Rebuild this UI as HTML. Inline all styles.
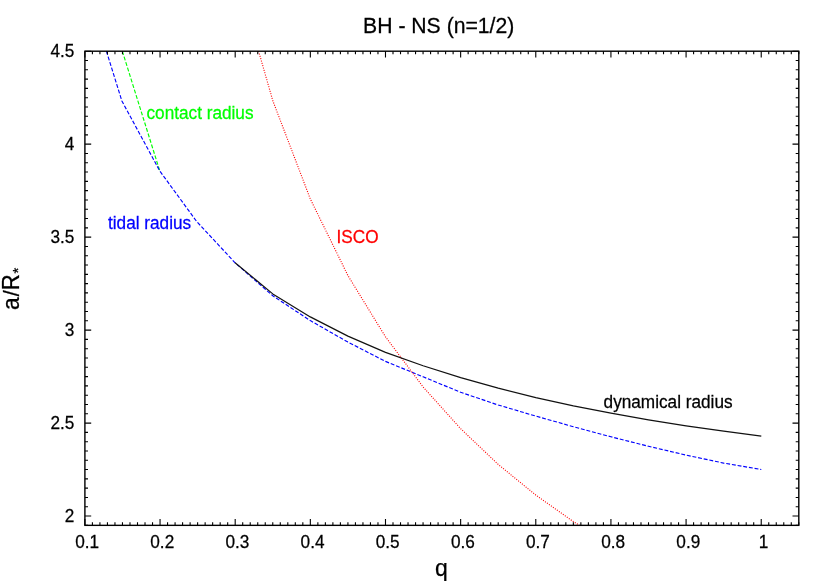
<!DOCTYPE html>
<html><head><meta charset="utf-8"><title>BH - NS (n=1/2)</title>
<style>
html,body{margin:0;padding:0;background:#fff;}
body{width:830px;height:581px;overflow:hidden;}
svg{display:block;will-change:transform;}
text{font-family:"Liberation Sans",sans-serif;}
</style></head><body>
<svg width="830" height="581" viewBox="0 0 830 581">
<rect x="0" y="0" width="830" height="581" fill="#ffffff"/>
<g fill="none" stroke-linejoin="round">
<polyline points="122.35,51.20 159.80,171.00" stroke="#00ff00" stroke-width="1.15" stroke-dasharray="3.9 1.85"/>
<polyline points="106.40,51.20 121.90,101.00 159.80,171.00 196.50,221.30 235.10,262.80 272.80,295.80 310.30,320.60 347.90,342.10 385.50,361.40 423.10,376.80 460.65,392.30 498.20,405.00 535.80,416.10 573.40,426.70 610.95,436.80 648.50,446.30 686.10,455.10 723.70,463.10 761.30,469.50" stroke="#0000ff" stroke-width="1.15" stroke-dasharray="3.9 1.85"/>
<polyline points="258.62,51.20 272.77,100.61 310.34,199.02 347.92,275.57 385.49,336.81 423.06,386.91 460.64,428.66 498.21,464.42 535.78,495.07 573.36,521.63 579.37,525.35" stroke="#ff0000" stroke-width="1.15" stroke-dasharray="1 1.43"/>
<polyline points="235.10,262.80 272.80,293.90 310.30,316.90 347.90,336.10 385.50,352.40 423.10,365.70 460.65,377.60 498.20,388.20 535.80,397.70 573.40,405.90 610.95,413.10 648.50,419.80 686.10,425.80 723.70,431.10 761.30,436.10" stroke="#111111" stroke-width="1.2"/>
</g>
<g fill="none" stroke="#000000">
<path d="M84.90 525.35v-6.3M84.90 51.20v6.3M92.41 525.35v-3.1M92.41 51.20v3.1M99.93 525.35v-3.1M99.93 51.20v3.1M107.44 525.35v-3.1M107.44 51.20v3.1M114.96 525.35v-3.1M114.96 51.20v3.1M122.47 525.35v-3.1M122.47 51.20v3.1M129.99 525.35v-3.1M129.99 51.20v3.1M137.50 525.35v-3.1M137.50 51.20v3.1M145.02 525.35v-3.1M145.02 51.20v3.1M152.53 525.35v-3.1M152.53 51.20v3.1M160.05 525.35v-6.3M160.05 51.20v6.3M167.56 525.35v-3.1M167.56 51.20v3.1M175.08 525.35v-3.1M175.08 51.20v3.1M182.59 525.35v-3.1M182.59 51.20v3.1M190.11 525.35v-3.1M190.11 51.20v3.1M197.62 525.35v-3.1M197.62 51.20v3.1M205.14 525.35v-3.1M205.14 51.20v3.1M212.65 525.35v-3.1M212.65 51.20v3.1M220.17 525.35v-3.1M220.17 51.20v3.1M227.68 525.35v-3.1M227.68 51.20v3.1M235.19 525.35v-6.3M235.19 51.20v6.3M242.71 525.35v-3.1M242.71 51.20v3.1M250.22 525.35v-3.1M250.22 51.20v3.1M257.74 525.35v-3.1M257.74 51.20v3.1M265.25 525.35v-3.1M265.25 51.20v3.1M272.77 525.35v-3.1M272.77 51.20v3.1M280.28 525.35v-3.1M280.28 51.20v3.1M287.80 525.35v-3.1M287.80 51.20v3.1M295.31 525.35v-3.1M295.31 51.20v3.1M302.83 525.35v-3.1M302.83 51.20v3.1M310.34 525.35v-6.3M310.34 51.20v6.3M317.86 525.35v-3.1M317.86 51.20v3.1M325.37 525.35v-3.1M325.37 51.20v3.1M332.89 525.35v-3.1M332.89 51.20v3.1M340.40 525.35v-3.1M340.40 51.20v3.1M347.92 525.35v-3.1M347.92 51.20v3.1M355.43 525.35v-3.1M355.43 51.20v3.1M362.95 525.35v-3.1M362.95 51.20v3.1M370.46 525.35v-3.1M370.46 51.20v3.1M377.97 525.35v-3.1M377.97 51.20v3.1M385.49 525.35v-6.3M385.49 51.20v6.3M393.00 525.35v-3.1M393.00 51.20v3.1M400.52 525.35v-3.1M400.52 51.20v3.1M408.03 525.35v-3.1M408.03 51.20v3.1M415.55 525.35v-3.1M415.55 51.20v3.1M423.06 525.35v-3.1M423.06 51.20v3.1M430.58 525.35v-3.1M430.58 51.20v3.1M438.09 525.35v-3.1M438.09 51.20v3.1M445.61 525.35v-3.1M445.61 51.20v3.1M453.12 525.35v-3.1M453.12 51.20v3.1M460.64 525.35v-6.3M460.64 51.20v6.3M468.15 525.35v-3.1M468.15 51.20v3.1M475.67 525.35v-3.1M475.67 51.20v3.1M483.18 525.35v-3.1M483.18 51.20v3.1M490.70 525.35v-3.1M490.70 51.20v3.1M498.21 525.35v-3.1M498.21 51.20v3.1M505.73 525.35v-3.1M505.73 51.20v3.1M513.24 525.35v-3.1M513.24 51.20v3.1M520.75 525.35v-3.1M520.75 51.20v3.1M528.27 525.35v-3.1M528.27 51.20v3.1M535.78 525.35v-6.3M535.78 51.20v6.3M543.30 525.35v-3.1M543.30 51.20v3.1M550.81 525.35v-3.1M550.81 51.20v3.1M558.33 525.35v-3.1M558.33 51.20v3.1M565.84 525.35v-3.1M565.84 51.20v3.1M573.36 525.35v-3.1M573.36 51.20v3.1M580.87 525.35v-3.1M580.87 51.20v3.1M588.39 525.35v-3.1M588.39 51.20v3.1M595.90 525.35v-3.1M595.90 51.20v3.1M603.42 525.35v-3.1M603.42 51.20v3.1M610.93 525.35v-6.3M610.93 51.20v6.3M618.45 525.35v-3.1M618.45 51.20v3.1M625.96 525.35v-3.1M625.96 51.20v3.1M633.48 525.35v-3.1M633.48 51.20v3.1M640.99 525.35v-3.1M640.99 51.20v3.1M648.51 525.35v-3.1M648.51 51.20v3.1M656.02 525.35v-3.1M656.02 51.20v3.1M663.53 525.35v-3.1M663.53 51.20v3.1M671.05 525.35v-3.1M671.05 51.20v3.1M678.56 525.35v-3.1M678.56 51.20v3.1M686.08 525.35v-6.3M686.08 51.20v6.3M693.59 525.35v-3.1M693.59 51.20v3.1M701.11 525.35v-3.1M701.11 51.20v3.1M708.62 525.35v-3.1M708.62 51.20v3.1M716.14 525.35v-3.1M716.14 51.20v3.1M723.65 525.35v-3.1M723.65 51.20v3.1M731.17 525.35v-3.1M731.17 51.20v3.1M738.68 525.35v-3.1M738.68 51.20v3.1M746.20 525.35v-3.1M746.20 51.20v3.1M753.71 525.35v-3.1M753.71 51.20v3.1M761.23 525.35v-6.3M761.23 51.20v6.3M768.74 525.35v-3.1M768.74 51.20v3.1M776.26 525.35v-3.1M776.26 51.20v3.1M783.77 525.35v-3.1M783.77 51.20v3.1M791.29 525.35v-3.1M791.29 51.20v3.1M798.80 525.35v-3.1M798.80 51.20v3.1M84.90 525.35h3.1M798.80 525.35h-3.1M84.90 516.05h6.3M798.80 516.05h-6.3M84.90 506.76h3.1M798.80 506.76h-3.1M84.90 497.46h3.1M798.80 497.46h-3.1M84.90 488.16h3.1M798.80 488.16h-3.1M84.90 478.86h3.1M798.80 478.86h-3.1M84.90 469.57h3.1M798.80 469.57h-3.1M84.90 460.27h3.1M798.80 460.27h-3.1M84.90 450.97h3.1M798.80 450.97h-3.1M84.90 441.68h3.1M798.80 441.68h-3.1M84.90 432.38h3.1M798.80 432.38h-3.1M84.90 423.08h6.3M798.80 423.08h-6.3M84.90 413.79h3.1M798.80 413.79h-3.1M84.90 404.49h3.1M798.80 404.49h-3.1M84.90 395.19h3.1M798.80 395.19h-3.1M84.90 385.89h3.1M798.80 385.89h-3.1M84.90 376.60h3.1M798.80 376.60h-3.1M84.90 367.30h3.1M798.80 367.30h-3.1M84.90 358.00h3.1M798.80 358.00h-3.1M84.90 348.71h3.1M798.80 348.71h-3.1M84.90 339.41h3.1M798.80 339.41h-3.1M84.90 330.11h6.3M798.80 330.11h-6.3M84.90 320.81h3.1M798.80 320.81h-3.1M84.90 311.52h3.1M798.80 311.52h-3.1M84.90 302.22h3.1M798.80 302.22h-3.1M84.90 292.92h3.1M798.80 292.92h-3.1M84.90 283.63h3.1M798.80 283.63h-3.1M84.90 274.33h3.1M798.80 274.33h-3.1M84.90 265.03h3.1M798.80 265.03h-3.1M84.90 255.74h3.1M798.80 255.74h-3.1M84.90 246.44h3.1M798.80 246.44h-3.1M84.90 237.14h6.3M798.80 237.14h-6.3M84.90 227.84h3.1M798.80 227.84h-3.1M84.90 218.55h3.1M798.80 218.55h-3.1M84.90 209.25h3.1M798.80 209.25h-3.1M84.90 199.95h3.1M798.80 199.95h-3.1M84.90 190.66h3.1M798.80 190.66h-3.1M84.90 181.36h3.1M798.80 181.36h-3.1M84.90 172.06h3.1M798.80 172.06h-3.1M84.90 162.76h3.1M798.80 162.76h-3.1M84.90 153.47h3.1M798.80 153.47h-3.1M84.90 144.17h6.3M798.80 144.17h-6.3M84.90 134.87h3.1M798.80 134.87h-3.1M84.90 125.58h3.1M798.80 125.58h-3.1M84.90 116.28h3.1M798.80 116.28h-3.1M84.90 106.98h3.1M798.80 106.98h-3.1M84.90 97.69h3.1M798.80 97.69h-3.1M84.90 88.39h3.1M798.80 88.39h-3.1M84.90 79.09h3.1M798.80 79.09h-3.1M84.90 69.79h3.1M798.80 69.79h-3.1M84.90 60.50h3.1M798.80 60.50h-3.1M84.90 51.20h6.3M798.80 51.20h-6.3" stroke-width="1.1"/>
<rect x="84.9" y="51.2" width="713.90" height="474.15" stroke-width="1.4"/>
</g>
<text transform="translate(87.10 548.00) scale(1 1.04)" font-size="17.2px" fill="#000000" stroke="#000000" stroke-width="0.25" text-anchor="middle">0.1</text><text transform="translate(162.25 548.00) scale(1 1.04)" font-size="17.2px" fill="#000000" stroke="#000000" stroke-width="0.25" text-anchor="middle">0.2</text><text transform="translate(237.39 548.00) scale(1 1.04)" font-size="17.2px" fill="#000000" stroke="#000000" stroke-width="0.25" text-anchor="middle">0.3</text><text transform="translate(312.54 548.00) scale(1 1.04)" font-size="17.2px" fill="#000000" stroke="#000000" stroke-width="0.25" text-anchor="middle">0.4</text><text transform="translate(387.69 548.00) scale(1 1.04)" font-size="17.2px" fill="#000000" stroke="#000000" stroke-width="0.25" text-anchor="middle">0.5</text><text transform="translate(462.84 548.00) scale(1 1.04)" font-size="17.2px" fill="#000000" stroke="#000000" stroke-width="0.25" text-anchor="middle">0.6</text><text transform="translate(537.98 548.00) scale(1 1.04)" font-size="17.2px" fill="#000000" stroke="#000000" stroke-width="0.25" text-anchor="middle">0.7</text><text transform="translate(613.13 548.00) scale(1 1.04)" font-size="17.2px" fill="#000000" stroke="#000000" stroke-width="0.25" text-anchor="middle">0.8</text><text transform="translate(688.28 548.00) scale(1 1.04)" font-size="17.2px" fill="#000000" stroke="#000000" stroke-width="0.25" text-anchor="middle">0.9</text><text transform="translate(763.43 548.00) scale(1 1.04)" font-size="17.2px" fill="#000000" stroke="#000000" stroke-width="0.25" text-anchor="middle">1</text>
<text transform="translate(74.40 57.40) scale(1 1.04)" font-size="17.2px" fill="#000000" stroke="#000000" stroke-width="0.25" text-anchor="end">4.5</text><text transform="translate(74.40 150.37) scale(1 1.04)" font-size="17.2px" fill="#000000" stroke="#000000" stroke-width="0.25" text-anchor="end">4</text><text transform="translate(74.40 243.34) scale(1 1.04)" font-size="17.2px" fill="#000000" stroke="#000000" stroke-width="0.25" text-anchor="end">3.5</text><text transform="translate(74.40 336.31) scale(1 1.04)" font-size="17.2px" fill="#000000" stroke="#000000" stroke-width="0.25" text-anchor="end">3</text><text transform="translate(74.40 429.28) scale(1 1.04)" font-size="17.2px" fill="#000000" stroke="#000000" stroke-width="0.25" text-anchor="end">2.5</text><text transform="translate(74.40 522.25) scale(1 1.04)" font-size="17.2px" fill="#000000" stroke="#000000" stroke-width="0.25" text-anchor="end">2</text>
<text transform="translate(438.70 32.60) scale(1 1.04)" font-size="21.2px" fill="#000000" stroke="#000000" stroke-width="0.25" text-anchor="middle">BH - NS (n=1/2)</text><text transform="translate(435.00 575.50) scale(1 1.0)" font-size="23px" fill="#000000" stroke="#000000" stroke-width="0.25">q</text><text transform="translate(146.50 119.00) scale(1 1.04)" font-size="17.2px" fill="#00ff00" stroke="#00ff00" stroke-width="0.25">contact radius</text><text transform="translate(108.00 229.30) scale(1 1.04)" font-size="17.2px" fill="#0000ff" stroke="#0000ff" stroke-width="0.25">tidal radius</text><text transform="translate(336.60 243.20) scale(1 1.04)" font-size="17.2px" fill="#ff0000" stroke="#ff0000" stroke-width="0.25">ISCO</text><text transform="translate(603.60 408.00) scale(1 1.04)" font-size="17.2px" fill="#000000" stroke="#000000" stroke-width="0.25">dynamical radius</text>
<g transform="translate(19.0 0) rotate(-90)" font-size="22.8px" fill="#000" stroke="#000" stroke-width="0.25"><text transform="translate(-310.0 0) scale(1 1.04)">a</text><text transform="translate(-296.6 0)">/</text><text transform="translate(-290.2 0) scale(0.97 1.04)">R</text><text transform="translate(-273.4 3.7)" font-size="15px">*</text></g>
</svg>
</body></html>
